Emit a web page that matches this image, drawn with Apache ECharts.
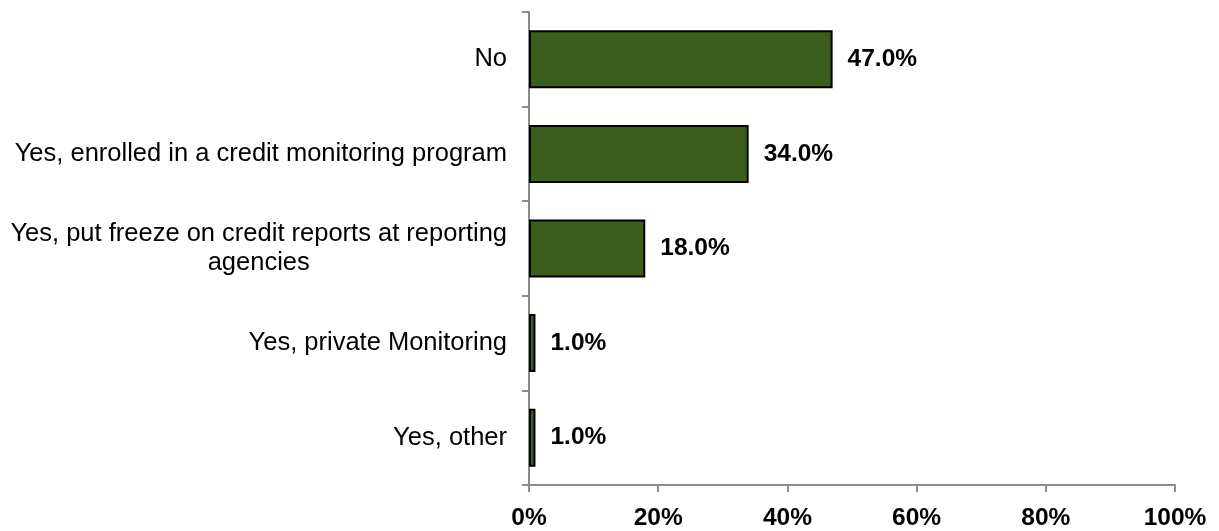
<!DOCTYPE html>
<html>
<head>
<meta charset="utf-8">
<script src="https://cdn.jsdelivr.net/npm/echarts@6/dist/echarts.min.js"></script>
<style>
html,body{margin:0;padding:0;background:#fff;}
#chart{width:1219px;height:531px;}
</style>
</head>
<body>
<div id="chart"></div>
<script>
const categories = [
  "No",
  "Yes, enrolled in a credit monitoring program",
  "Yes, put freeze on credit reports at reporting\nagencies",
  "Yes, private Monitoring",
  "Yes, other"
];
const values = [47.0, 34.0, 18.0, 1.0, 1.0];
const xTicks = [0, 20, 40, 60, 80, 100];

const FONT = '"Liberation Sans", Arial, sans-serif';
const chart = echarts.init(document.getElementById('chart'));
chart.setOption({
  animation: false,
  backgroundColor: '#ffffff',
  grid: { left: 529, right: 44, top: 12, bottom: 45, containLabel: false },
  xAxis: {
    type: 'value',
    min: xTicks[0],
    max: xTicks[xTicks.length - 1],
    interval: xTicks[1] - xTicks[0],
    axisLine: { show: true, lineStyle: { color: '#8c8c8c', width: 2 } },
    axisTick: { show: true, length: 7, lineStyle: { color: '#8c8c8c', width: 2 } },
    splitLine: { show: false },
    axisLabel: {
      formatter: '{value}%',
      fontFamily: FONT, fontSize: 24.5, fontWeight: 'bold', color: '#000',
      margin: 21
    }
  },
  yAxis: {
    type: 'category',
    inverse: true,
    data: categories,
    axisLine: { show: true, lineStyle: { color: '#8c8c8c', width: 2 } },
    axisTick: { show: true, length: 7, lineStyle: { color: '#8c8c8c', width: 2 } },
    axisLabel: {
      fontFamily: FONT, fontSize: 25.5, color: '#000', margin: 22,
      lineHeight: 29,
      formatter: function (v) {
        if (v.indexOf('\n') >= 0) {
          return v.split('\n').map(s => '{c|' + s + '}').join('\n');
        }
        return v;
      },
      rich: { c: { align: 'center', fontFamily: FONT, fontSize: 25.5, color: '#000', lineHeight: 29 } }
    }
  },
  series: [{
    type: 'bar',
    data: values,
    barWidth: 58,
    itemStyle: { color: '#3b5e1f', borderColor: '#000', borderWidth: 2 },
    label: {
      show: true,
      position: 'right',
      distance: 15,
      formatter: p => p.value.toFixed(1) + '%',
      fontFamily: FONT, fontSize: 24.5, fontWeight: 'bold', color: '#000'
    }
  }]
});
</script>
</body>
</html>
